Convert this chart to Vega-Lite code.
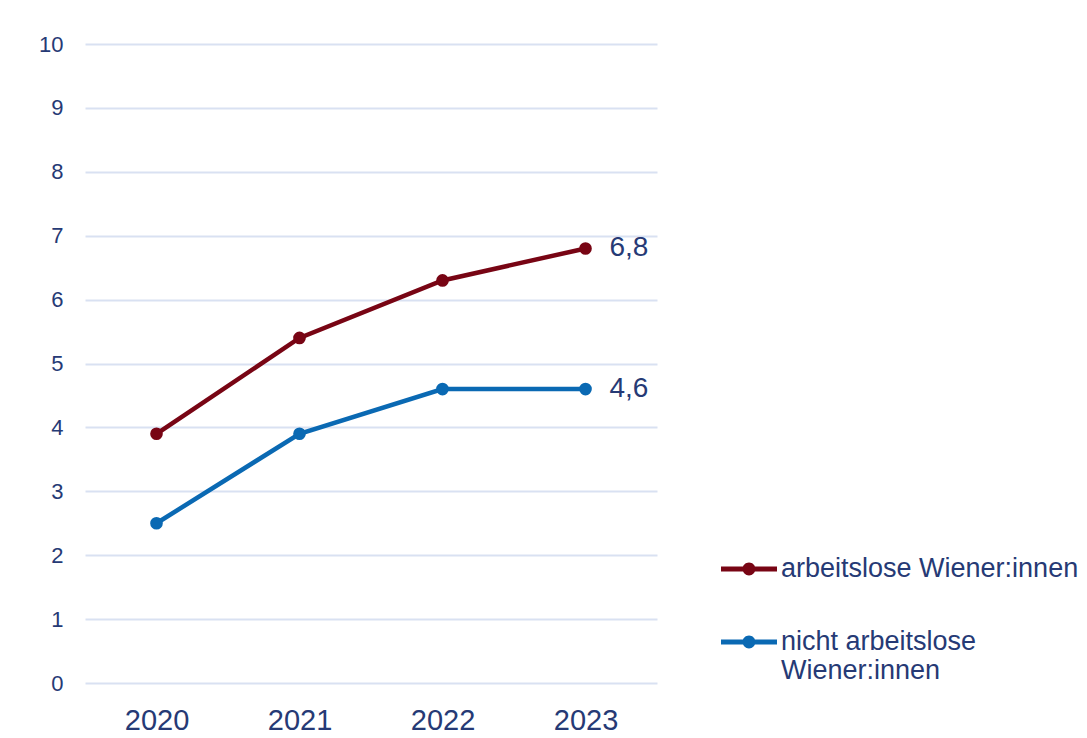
{
  "$schema": "https://vega.github.io/schema/vega-lite/v6.json",
  "autosize": {"type": "none"},
  "width": 572,
  "height": 639,
  "padding": {"left": 85, "top": 44, "right": 430, "bottom": 55},
  "background": "white",
  "config": {
    "view": {"stroke": null},
    "font": "Liberation Sans",
    "text": {"font": "Liberation Sans"},
    "locale": {"number": {"decimal": ",", "thousands": ".", "grouping": [3], "currency": ["", " €"]}}
  },
  "data": {
    "values": [
      {"year": "2020", "group": "arbeitslose Wiener:innen", "value": 3.9},
      {"year": "2021", "group": "arbeitslose Wiener:innen", "value": 5.4},
      {"year": "2022", "group": "arbeitslose Wiener:innen", "value": 6.3},
      {"year": "2023", "group": "arbeitslose Wiener:innen", "value": 6.8},
      {"year": "2020", "group": "nicht arbeitslose Wiener:innen", "value": 2.5},
      {"year": "2021", "group": "nicht arbeitslose Wiener:innen", "value": 3.9},
      {"year": "2022", "group": "nicht arbeitslose Wiener:innen", "value": 4.6},
      {"year": "2023", "group": "nicht arbeitslose Wiener:innen", "value": 4.6}
    ]
  },
  "encoding": {
    "x": {
      "field": "year", "type": "ordinal",
      "scale": {"type": "point", "padding": 0.5},
      "axis": {
        "title": null, "labelAngle": 0, "domain": false, "ticks": false,
        "labelFontSize": 29, "labelColor": "#263A75", "labelPadding": 23,
        "labelFont": "Liberation Sans"
      }
    },
    "y": {
      "field": "value", "type": "quantitative",
      "scale": {"domain": [0, 10], "nice": false},
      "axis": {
        "title": null, "values": [0,1,2,3,4,5,6,7,8,9,10], "domain": false, "ticks": false,
        "labelFontSize": 22, "labelColor": "#263A75", "labelPadding": 22,
        "gridColor": "#D9E1F2", "gridWidth": 2, "labelFont": "Liberation Sans"
      }
    }
  },
  "layer": [
    {
      "mark": {"type": "line", "strokeWidth": 4.5},
      "encoding": {
        "stroke": {
          "field": "group", "type": "nominal",
          "scale": {
            "domain": ["arbeitslose Wiener:innen", "nicht arbeitslose Wiener:innen", "_"],
            "range": ["#780514", "#0A69B3", "#ffffff"]
          },
          "legend": null
        }
      }
    },
    {
      "mark": {"type": "point", "filled": true, "size": 160, "opacity": 1, "shape": "circle"},
      "encoding": {
        "fill": {
          "field": "group", "type": "nominal",
          "scale": {
            "domain": ["arbeitslose Wiener:innen", "nicht arbeitslose Wiener:innen"],
            "range": ["#780514", "#0A69B3"]
          },
          "legend": {
            "title": null, "orient": "none", "legendX": 636, "legendY": 497,
            "padding": 0,
            "symbolType": "M-1,-0.085L1,-0.085L1,0.085L-1,0.085Z M-0.23,0A0.23,0.23,0,1,1,0.23,0A0.23,0.23,0,1,1,-0.23,0Z",
            "symbolSize": 3136, "symbolOpacity": 1, "symbolStrokeWidth": 0,
            "labelFontSize": 27, "labelColor": "#263A75",
            "labelFont": "Liberation Sans", "labelOffset": 4, "rowPadding": 32,
            "labelLimit": 400,
            "labelExpr": "datum.label == 'nicht arbeitslose Wiener:innen' ? ['nicht arbeitslose', 'Wiener:innen'] : datum.label"
          }
        }
      }
    },
    {
      "transform": [{"filter": "datum.year == '2023'"}],
      "mark": {"type": "text", "align": "left", "baseline": "middle", "dx": 24, "fontSize": 28, "color": "#263A75"},
      "encoding": {
        "text": {"field": "value", "type": "quantitative", "format": ".1f"}
      }
    }
  ]
}
